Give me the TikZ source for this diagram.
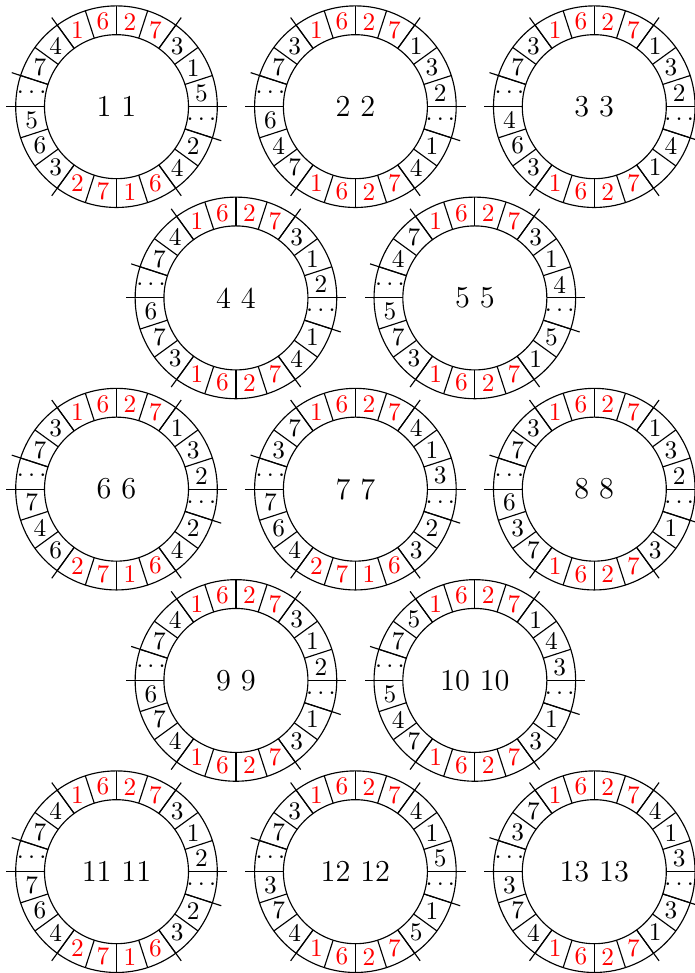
\documentclass[tikz,border=0pt]{standalone}
\newcommand\rdots{\makebox[0pt]{$\cdots$}}
\tikzset{
  seg/.style={font=\normalsize, inner sep=0pt},
  ctr/.style={font=\large, inner sep=0pt},
  ringline/.style={line width=0.45pt, black},
}
\newcommand\myring[5]{%
  \begin{scope}[shift={(#1,#2)}]
    \draw[ringline] (0,0) circle (1cm) (0,0) circle (1.4cm);
    \foreach \a in {0,18,...,342} \draw[ringline] (\a:1) -- (\a:1.4);
    \foreach \a in {0,54,126,162,180,234,306,342} \draw[ringline] (\a:1) -- (\a:1.53);
    \node[ctr] (#3) at (0,0) {#4};
    \foreach \t [count=\k from 0] in {#5} {
      \pgfmathsetmacro\ang{117-18*\k}
      \pgfmathtruncatemacro\isred{((\k<4)||((\k>9)&&(\k<14)))?1:0}
      \ifnum\isred=1 \def\col{red}\else\def\col{black}\fi
      \node[seg,text=\col] (#3-\k) at (\ang:1.194) {\t};
    }
  \end{scope}}
\begin{document}
\begin{tikzpicture}
\useasboundingbox (0,0) rectangle (9.639,13.514);
\myring{1.618}{12.032}{r1}{1 1}{1,6,2,7,3,1,5,\rdots,2,4,6,1,7,2,3,6,5,\rdots,7,4}
\myring{4.936}{12.032}{r2}{2 2}{1,6,2,7,1,3,2,\rdots,1,4,7,2,6,1,7,4,6,\rdots,7,3}
\myring{8.254}{12.032}{r3}{3 3}{1,6,2,7,1,3,2,\rdots,4,1,7,2,6,1,3,6,4,\rdots,7,3}
\myring{3.277}{9.376}{r4}{4 4}{1,6,2,7,3,1,2,\rdots,1,4,7,2,6,1,3,7,6,\rdots,7,4}
\myring{6.595}{9.376}{r5}{5 5}{1,6,2,7,3,1,4,\rdots,5,1,7,2,6,1,3,7,5,\rdots,4,7}
\myring{1.618}{6.720}{r6}{6 6}{1,6,2,7,1,3,2,\rdots,2,4,6,1,7,2,6,4,7,\rdots,7,3}
\myring{4.936}{6.720}{r7}{7 7}{1,6,2,7,4,1,3,\rdots,2,3,6,1,7,2,4,6,7,\rdots,3,7}
\myring{8.254}{6.720}{r8}{8 8}{1,6,2,7,1,3,2,\rdots,1,3,7,2,6,1,7,3,6,\rdots,7,3}
\myring{3.277}{4.063}{r9}{9 9}{1,6,2,7,3,1,2,\rdots,1,3,7,2,6,1,4,7,6,\rdots,7,4}
\myring{6.595}{4.063}{r10}{10 10}{1,6,2,7,1,4,3,\rdots,1,3,7,2,6,1,7,4,5,\rdots,7,5}
\myring{1.618}{1.407}{r11}{11 11}{1,6,2,7,3,1,2,\rdots,2,3,6,1,7,2,4,6,7,\rdots,7,4}
\myring{4.936}{1.407}{r12}{12 12}{1,6,2,7,4,1,5,\rdots,1,5,7,2,6,1,4,7,3,\rdots,7,3}
\myring{8.254}{1.407}{r13}{13 13}{1,6,2,7,4,1,3,\rdots,3,1,7,2,6,1,4,7,3,\rdots,3,7}
\end{tikzpicture}
\end{document}
